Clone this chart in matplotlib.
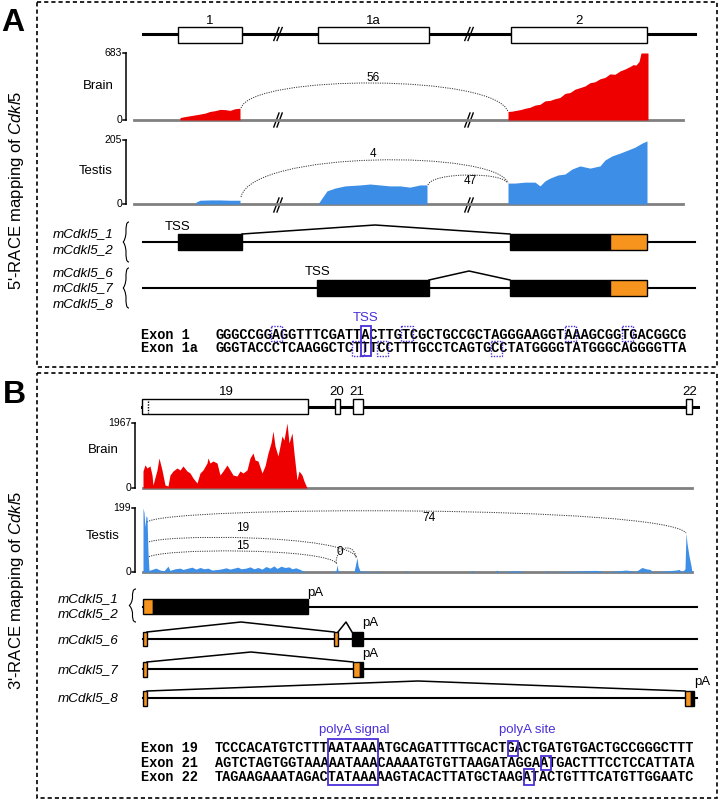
import matplotlib
matplotlib.use('Agg')
import matplotlib.pyplot as plt
from matplotlib.patches import Rectangle, PathPatch
from matplotlib.path import Path

plt.rcParams['font.family'] = ['Liberation Sans', 'DejaVu Sans']
plt.rcParams['mathtext.fontset'] = 'custom'
plt.rcParams['mathtext.rm'] = 'Liberation Sans'
plt.rcParams['mathtext.it'] = 'Liberation Sans:italic'

# ---------------- data ----------------
# Panel A coverage (read counts) along the track (x in track units)
a_brain_max = 683
a_testis_max = 205
a_brain_ex1_x = [180, 188, 197, 205, 210, 215, 220, 225, 230, 235, 239, 240]
a_brain_ex1_y = [25, 40, 55, 70, 87, 95, 108, 106, 98, 115, 119, 119]
a_brain_ex2_x = [508, 512, 516, 520, 525, 530, 535, 540, 545, 550, 555, 560, 565, 570, 575,
                 580, 585, 590, 595, 600, 605, 610, 615, 620, 625, 630, 633, 636, 639, 641, 645, 648]
a_brain_ex2_y = [87, 90, 98, 105, 119, 130, 152, 160, 195, 200, 217, 230, 271, 280, 314,
                 330, 347, 380, 390, 420, 434, 470, 466, 500, 520, 545, 564, 560, 596, 683, 683, 683]
a_testis_ex1_x = [196, 200, 210, 220, 230, 238, 240]
a_testis_ex1_y = [6, 12, 13, 13, 12, 12, 12]
a_testis_ex1a_x = [318, 322, 327, 335, 345, 355, 360, 370, 380, 390, 400, 410, 420, 427]
a_testis_ex1a_y = [0, 19, 42, 51, 58, 60, 61, 64, 61, 58, 58, 54, 61, 61]
a_testis_ex2_x = [508, 515, 525, 535, 540, 545, 550, 558, 565, 572, 580, 590, 600, 605,
                  612, 620, 628, 635, 642, 647]
a_testis_ex2_y = [67, 67, 70, 70, 58, 74, 83, 93, 96, 112, 122, 115, 122, 141,
                  154, 163, 173, 182, 195, 202]
a_brain_junction = ['56']
a_testis_junctions = ['4', '47']

# Panel B coverage
b_brain_max = 1967
b_testis_max = 199
b_brain_x = [143, 145, 147, 150, 152, 153, 157, 159, 162, 165, 168, 170, 173, 177, 180, 183,
             187, 190, 193, 197, 200, 203, 207, 208, 210, 213, 217, 220, 223, 227, 230, 233,
             237, 240, 243, 247, 250, 253, 255, 258, 262, 265, 268, 271, 273, 275, 278, 282,
             284, 287, 289, 292, 294, 297, 299, 302, 304, 307]
b_brain_y = [514, 700, 605, 666, 393, 91, 545, 908, 545, 91, 61, 393, 514, 605, 545, 666,
             514, 454, 303, 151, 454, 545, 757, 908, 757, 817, 757, 393, 514, 696, 545, 393,
             363, 514, 454, 545, 908, 1059, 847, 817, 454, 666, 1059, 1362, 1725, 1271, 968, 1574,
             1452, 1967, 1362, 1664, 1059, 242, 514, 393, 212, 0]
b_testis_x = [143, 144, 145, 146, 147, 148, 149, 152, 156, 160, 164, 168, 170, 175, 180, 183,
              188, 192, 196, 200, 204, 208, 212, 218, 222, 226, 230, 234, 238, 241, 246, 250,
              254, 258, 262, 266, 270, 274, 277, 281, 285, 289, 292, 296, 300, 303, 306, 330,
              336, 337, 338, 340, 354, 356, 357, 358, 360, 377, 378, 380, 405, 406, 408, 470,
              472, 475, 495, 497, 499, 515, 520, 525, 545, 547, 549, 595, 600, 605, 626, 631,
              635, 642, 646, 650, 653, 676, 679, 682, 685, 686, 687, 689, 691, 692]
b_testis_y = [199, 185, 140, 175, 170, 60, 5, 8, 12, 6, 4, 18, 5, 10, 12, 8,
              12, 15, 9, 14, 10, 12, 6, 8, 10, 13, 9, 12, 15, 10, 12, 16,
              10, 14, 9, 17, 12, 19, 11, 18, 14, 16, 10, 13, 8, 3, 0, 0,
              3, 22, 5, 0, 0, 30, 45, 20, 3, 0, 4, 0, 0, 4, 0, 0,
              4, 0, 0, 6, 0, 4, 3, 0, 0, 4, 0, 5, 4, 0, 6, 4,
              0, 14, 10, 8, 0, 6, 8, 0, 10, 121, 90, 50, 20, 0]
b_testis_junctions = ['74', '19', '15', '0']

# Sequences
seqA_names = ['Exon 1', 'Exon 1a']
seqA = ['GGGCCGGAGGTTTCGATTACTTGTCGCTGCCGCTAGGGAAGGTAAAGCGGTGACGGCG',
        'GGGTACCCTCAAGGCTCTTTCCTTTGCCTCAGTGCCTATGGGGTATGGGCAGGGGTTA']
seqA_dotted = [[7, 23, 43, 50], [17, 20, 34]]
seqA_tss = 18
seqB_names = ['Exon 19', 'Exon 21', 'Exon 22']
seqB = ['TCCCACATGTCTTTAATAAAATGCAGATTTTGCACTGACTGATGTGACTGCCGGGCTTT',
        'AGTCTAGTGGTAAAAATAAACAAAATGTGTTAAGATAGGAATGACTTTCCTCCATTATA',
        'TAGAAGAAATAGACTATAAAAAGTACACTTATGCTAAGATACTGTTTCATGTTGGAATC']
seqB_signal = (14, 20)
seqB_site = [36, 40, 38]

a_isoforms = [['mCdkl5_1', 'mCdkl5_2'], ['mCdkl5_6', 'mCdkl5_7', 'mCdkl5_8']]
b_isoforms = [['mCdkl5_1', 'mCdkl5_2'], ['mCdkl5_6'], ['mCdkl5_7'], ['mCdkl5_8']]

# ---------------- style ----------------
RED = '#EE0000'
BLUE = '#3D8EE6'
ORANGE = '#F7941D'
GRAY = '#808080'
VIOLET = '#4A2FD8'
W, H = 720, 800

fig = plt.figure(figsize=(7.2, 8.0), dpi=100)
ax = fig.add_axes([0, 0, 1, 1])
ax.set_xlim(0, W)
ax.set_ylim(H, 0)
ax.axis('off')


def box(x0, x1, y0, y1, fc, lw=1.0, z=3):
    ax.add_patch(Rectangle((x0, y0), x1 - x0, y1 - y0, fc=fc, ec='black', lw=lw, zorder=z))


def slash(x, y, h=13, gap=3.2):
    for dx in (-gap / 2, gap / 2):
        ax.plot([x + dx - 2.6, x + dx + 2.6], [y + h / 2, y - h / 2], color='black', lw=1.0, zorder=6)


def junction(x0, y0, x1, y1, ypk):
    yc = (ypk - (y0 + y1) / 8) / 0.75
    dx = 0.04 * (x1 - x0)
    verts = [(x0, y0), (x0 + dx, yc), (x1 - dx, yc), (x1, y1)]
    codes = [Path.MOVETO, Path.CURVE4, Path.CURVE4, Path.CURVE4]
    ax.add_patch(PathPatch(Path(verts, codes), fc='none', ec='#333333', lw=0.7,
                           ls=(0, (1.2, 1.2)), zorder=5))


def brace(x_tip, x_end, y0, y1):
    ym = (y0 + y1) / 2
    xm = (x_tip + x_end) / 2
    q = (y1 - y0) / 8
    verts = [(x_end, y0), (xm, y0), (xm, y0 + q), (xm, y0 + 2 * q),
             (xm, ym - 2 * q),
             (xm, ym - q), (x_tip + (xm - x_tip) * 0.3, ym), (x_tip, ym),
             (x_tip + (xm - x_tip) * 0.3, ym), (xm, ym + q), (xm, ym + 2 * q),
             (xm, y1 - 2 * q),
             (xm, y1 - q), (xm, y1), (x_end, y1)]
    codes = [Path.MOVETO, Path.CURVE4, Path.CURVE4, Path.CURVE4,
             Path.LINETO,
             Path.CURVE4, Path.CURVE4, Path.CURVE4,
             Path.CURVE4, Path.CURVE4, Path.CURVE4,
             Path.LINETO,
             Path.CURVE4, Path.CURVE4, Path.CURVE4]
    ax.add_patch(PathPatch(Path(verts, codes), fc='none', ec='black', lw=0.8))


def splice(x0, x1, y, ypk, xpk=None):
    if xpk is None:
        xpk = (x0 + x1) / 2
    ax.plot([x0, xpk, x1], [y, ypk, y], color='black', lw=1.1, zorder=2)


def track(x0, x1, ytop, ybot, ymax, base_x0, base_x1, tick_label, axis_x):
    t = fig.add_axes([x0 / W, 1 - ybot / H, (x1 - x0) / W, (ybot - ytop) / H])
    t.set_xlim(x0, x1)
    t.set_ylim(0, ymax)
    t.axis('off')
    t.plot([base_x0, base_x1], [0, 0], color=GRAY, lw=2.0, clip_on=False, zorder=1)
    t.plot([axis_x, axis_x], [0, ymax], color='black', lw=1.1, clip_on=False)
    for v in (0, ymax):
        t.plot([axis_x - 3, axis_x], [v, v], color='black', lw=1.1, clip_on=False)
    t.text(axis_x - 4, ymax, tick_label, ha='right', va='center', fontsize=7.5)
    t.text(axis_x - 4, 0, '0', ha='right', va='center', fontsize=7.5)
    return t


# ---------------- panel frames ----------------
for (x0, y0, x1, y1) in [(37, 2, 717, 367), (37, 373, 717, 798)]:
    ax.add_patch(Rectangle((x0, y0), x1 - x0, y1 - y0, fill=False, ec='black', lw=1.2,
                           ls=(0, (2.5, 1.8))))
ax.text(13, 23, 'A', fontsize=23, fontweight='bold', ha='center', va='center')
ax.text(14, 395, 'B', fontsize=23, fontweight='bold', ha='center', va='center')
ax.text(17, 190, "5'-RACE mapping of $Cdkl5$", rotation=90, fontsize=12, ha='center', va='center')
ax.text(17, 590, "3'-RACE mapping of $Cdkl5$", rotation=90, fontsize=12, ha='center', va='center')

# ---------------- panel A gene ----------------
ax.plot([143, 695], [34, 34], color='black', lw=2.2, zorder=1)
for name, x0, x1 in [('1', 178, 242), ('1a', 318, 429), ('2', 511, 647)]:
    box(x0, x1, 27, 43, 'white')
    ax.text((x0 + x1) / 2, 21, name, ha='center', va='center', fontsize=9.5)
slash(278, 34)
slash(469, 34)

# coverage A
tb = track(115, 700, 53, 120, a_brain_max, 134, 683, str(a_brain_max), 126)
tb.fill_between(a_brain_ex1_x, a_brain_ex1_y, color=RED, lw=0)
tb.fill_between(a_brain_ex2_x, a_brain_ex2_y, color=RED, lw=0)
tt = track(115, 700, 140, 204, a_testis_max, 134, 683, str(a_testis_max), 126)
tt.fill_between(a_testis_ex1_x, a_testis_ex1_y, color=BLUE, lw=0)
tt.fill_between(a_testis_ex1a_x, a_testis_ex1a_y, color=BLUE, lw=0)
tt.fill_between(a_testis_ex2_x, a_testis_ex2_y, color=BLUE, lw=0)
ax.text(98, 86, 'Brain', ha='center', va='center', fontsize=9.5)
ax.text(96, 171, 'Testis', ha='center', va='center', fontsize=9.5)
for xs in (278, 469):
    slash(xs, 120, h=14)
    slash(xs, 205, h=14)

junction(241, 108, 508, 112, 83)
ax.text(373, 78, a_brain_junction[0], ha='center', va='center', fontsize=8.5)
junction(241, 197, 508, 183, 160)
ax.text(373, 154, a_testis_junctions[0], ha='center', va='center', fontsize=8.5)
junction(428, 185, 507, 183, 175)
ax.text(470, 181, a_testis_junctions[1], ha='center', va='center', fontsize=8.5)

# transcripts A
for y in (242, 288):
    ax.plot([143, 695], [y, y], color='black', lw=1.5, zorder=1)
box(178, 242, 234, 250, 'black')
box(510, 610, 234, 250, 'black')
box(610, 647, 234, 250, ORANGE)
splice(242, 510, 234, 225, 375)
box(317, 429, 280, 296, 'black')
box(510, 610, 280, 296, 'black')
box(610, 647, 280, 296, ORANGE)
splice(429, 510, 280, 271, 469)
ax.text(178, 227, 'TSS', ha='center', va='center', fontsize=9.5)
ax.text(318, 272, 'TSS', ha='center', va='center', fontsize=9.5)
for names, ys in zip(a_isoforms, [(234, 250), (273, 288, 304)]):
    for n, y in zip(names, ys):
        ax.text(114, y, n, ha='right', va='center', fontsize=9.7, style='italic')
brace(123, 129, 222, 262)
brace(123, 129, 268, 308)

# sequences A
FS = 9.8
CW = 0.6 * FS * 100 / 72
SX = 215
mono = dict(family='Liberation Mono', fontweight='bold', fontsize=FS, va='center')
rowsA = [335, 348]
for name, s, y in zip(seqA_names, seqA, rowsA):
    ax.text(141, y, name, ha='left', **mono)
    ax.text(SX, y, s, ha='left', **mono)
bandsA = [(326, 341), (341, 356)]
for r, idxs in enumerate(seqA_dotted):
    for i in idxs:
        x0 = SX + i * CW - 1.5
        ax.add_patch(Rectangle((x0, bandsA[r][0]), CW + 3, bandsA[r][1] - bandsA[r][0], fill=False,
                               ec=VIOLET, lw=1.0, ls=(0, (1, 1)), zorder=6))
ax.add_patch(Rectangle((SX + seqA_tss * CW - 1.5, 326), CW + 2, 30, fill=False, ec=VIOLET, lw=1.3, zorder=6))
ax.text(SX + seqA_tss * CW + CW / 2, 318, 'TSS', color=VIOLET, ha='center', va='center', fontsize=9.5)

# ---------------- panel B gene ----------------
ax.plot([142, 698], [407, 407], color='black', lw=2.2, zorder=1)
for name, x0, x1, lx in [('19', 142, 308, 226), ('20', 335, 340, 337), ('21', 353, 363, 357),
                         ('22', 686, 692, 690)]:
    box(x0, x1, 399, 414, 'white')
    ax.text(lx, 392, name, ha='center', va='center', fontsize=9.5)
ax.plot([148, 148], [401, 413], color='black', lw=1.0, ls=(0, (1, 1)), zorder=4)

# coverage B
bb = track(120, 700, 423, 488, b_brain_max, 143, 692, str(b_brain_max), 135)
bb.fill_between(b_brain_x, b_brain_y, color=RED, lw=0)
bt = track(120, 700, 508, 572, b_testis_max, 143, 692, str(b_testis_max), 135)
bt.fill_between(b_testis_x, b_testis_y, color=BLUE, lw=0)
ax.text(103, 450, 'Brain', ha='center', va='center', fontsize=9.5)
ax.text(103, 536, 'Testis', ha='center', va='center', fontsize=9.5)

junction(147, 522, 686, 533, 511)
ax.text(429, 518, b_testis_junctions[0], ha='center', va='center', fontsize=8.5)
junction(147, 543, 357, 558, 538)
ax.text(243, 528, b_testis_junctions[1], ha='center', va='center', fontsize=8.5)
junction(147, 558, 337, 564, 551)
ax.text(243, 546, b_testis_junctions[2], ha='center', va='center', fontsize=8.5)
junction(336, 563, 356, 558, 548)
ax.text(340, 552, b_testis_junctions[3], ha='center', va='center', fontsize=8.5)

# transcripts B
for y in (607, 639, 669, 698):
    ax.plot([143, 697], [y, y], color='black', lw=1.5, zorder=1)
box(143, 153, 599, 614, ORANGE)
box(153, 308, 599, 614, 'black')
ax.text(315, 593, 'pA', ha='center', va='center', fontsize=9.5)

box(143, 147, 632, 646, ORANGE)
box(334, 338, 632, 646, ORANGE)
box(352, 363, 632, 646, 'black')
splice(147, 334, 632, 622, 241)
splice(338, 352, 632, 622, 346)
ax.text(370, 623, 'pA', ha='center', va='center', fontsize=9.5)

box(143, 147, 662, 677, ORANGE)
box(353, 360, 662, 677, ORANGE)
box(360, 363, 662, 677, 'black')
splice(147, 353, 662, 652, 251)
ax.text(370, 654, 'pA', ha='center', va='center', fontsize=9.5)

box(143, 147, 691, 706, ORANGE)
box(685, 691, 691, 706, ORANGE)
box(691, 694, 691, 706, 'black')
splice(147, 685, 691, 681, 418)
ax.text(702, 682, 'pA', ha='center', va='center', fontsize=9.5)

for names, ys in zip(b_isoforms, [(599, 614), (640,), (670,), (698,)]):
    for n, y in zip(names, ys):
        ax.text(119, y, n, ha='right', va='center', fontsize=9.7, style='italic')
brace(129, 136, 589, 622)

# sequences B
rowsB = [748, 763, 777]
for name, s, y in zip(seqB_names, seqB, rowsB):
    ax.text(141, y, name, ha='left', **mono)
    ax.text(SX, y, s, ha='left', **mono)
s0, s1 = seqB_signal
ax.add_patch(Rectangle((SX + s0 * CW - 1, 739), (s1 - s0) * CW + 1, 46, fill=False, ec=VIOLET, lw=1.3, zorder=6))
bandsB = [(741, 756), (756, 770), (769, 785)]
for r, i in enumerate(seqB_site):
    ax.add_patch(Rectangle((SX + i * CW - 1, bandsB[r][0]), CW + 2, bandsB[r][1] - bandsB[r][0],
                           fill=False, ec=VIOLET, lw=1.3, zorder=6))
ax.text(SX + (s0 + s1) / 2 * CW, 730, 'polyA signal', color=VIOLET, ha='center', va='center', fontsize=9.5)
ax.text(527, 730, 'polyA site', color=VIOLET, ha='center', va='center', fontsize=9.5)

fig.savefig('out.png', dpi=100)
